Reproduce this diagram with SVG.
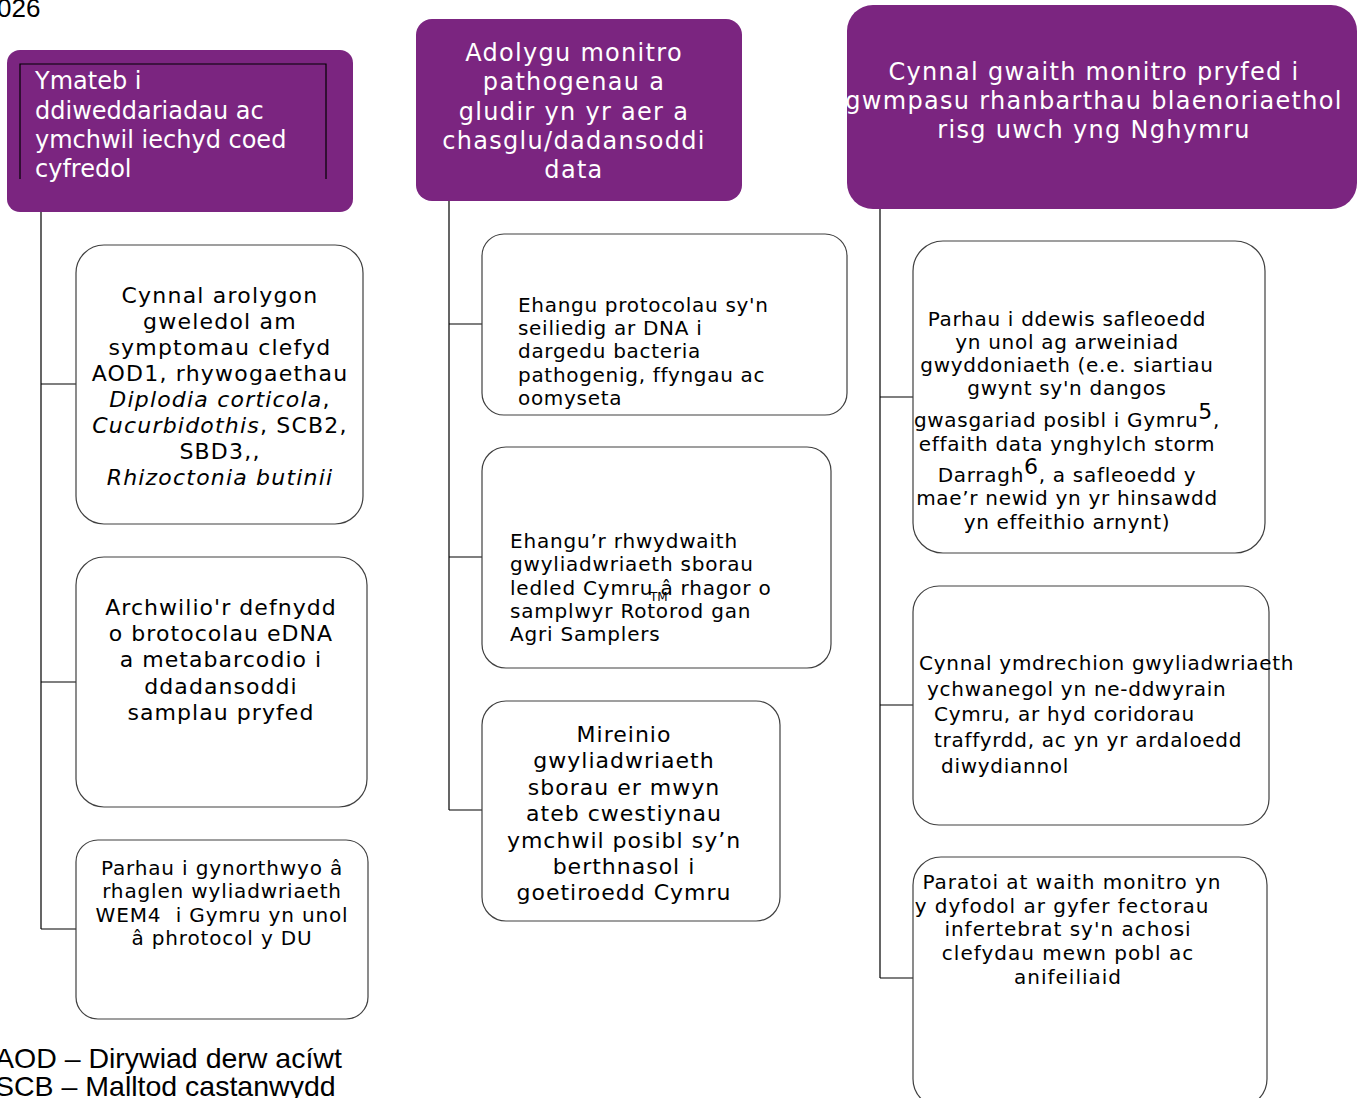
<svg xmlns="http://www.w3.org/2000/svg" width="1363" height="1098" viewBox="0 0 1363 1098">
<style>
.hdr{fill:#7B2580;}
.ht{fill:#ffffff;font-family:"DejaVu Sans",Verdana,sans-serif;font-size:24px;}
.ls{letter-spacing:1.3px;}
.box{fill:#ffffff;stroke:#404040;stroke-width:1.2;}
.bt{fill:#000000;font-family:"DejaVu Sans",Verdana,sans-serif;}
.c{text-anchor:middle;}
.conn{stroke:#000000;stroke-width:1.2;fill:none;}
.leg{font-family:"Liberation Sans",Arial,sans-serif;font-size:28.5px;fill:#000;}
</style>
<defs>
<clipPath id="clipL1"><rect x="76" y="245" width="287" height="242"/></clipPath>
</defs>
<text class="leg" x="-3" y="17" style="font-size:26px">026</text>

<g id="connectors">
<path class="conn" d="M41 212 V929 M41 384 H76 M41 682 H76 M41 929 H76"/>
<path class="conn" d="M449 201 V810 M449 324 H482 M449 557 H482 M449 810 H482"/>
<path class="conn" d="M880 209 V978 M880 397 H913 M880 705 H913 M880 978 H913"/>
</g>

<g id="header1">
<rect class="hdr" x="7" y="50" width="346" height="162" rx="13"/>
<path d="M20 179 V64 H326 V179" fill="none" stroke="#000" stroke-width="1.2"/>
<text class="ht" x="35" y="89">Ymateb i</text>
<text class="ht" x="35" y="119">ddiweddariadau ac</text>
<text class="ht" x="35" y="148">ymchwil iechyd coed</text>
<text class="ht" x="35" y="177">cyfredol</text>
</g>

<g id="header2">
<rect class="hdr" x="416" y="19" width="326" height="182" rx="16"/>
<text class="ht c ls" x="574" y="61">Adolygu monitro</text>
<text class="ht c ls" x="574" y="90">pathogenau a</text>
<text class="ht c ls" x="574" y="120">gludir yn yr aer a</text>
<text class="ht c ls" x="574" y="149">chasglu/dadansoddi</text>
<text class="ht c ls" x="574" y="178">data</text>
</g>

<g id="header3">
<rect class="hdr" x="847" y="5" width="510" height="204" rx="26"/>
<text class="ht c ls" x="1094" y="80">Cynnal gwaith monitro pryfed i</text>
<text class="ht c ls" x="1094" y="109">gwmpasu rhanbarthau blaenoriaethol</text>
<text class="ht c ls" x="1094" y="138">risg uwch yng Nghymru</text>
</g>

<g id="L1" style="letter-spacing:1.2px">
<rect class="box" x="76" y="245" width="287" height="279" rx="28"/>
<g clip-path="url(#clipL1)">
<text class="bt c" x="220" y="303" style="font-size:22px">Cynnal arolygon</text>
<text class="bt c" x="220" y="329" style="font-size:22px">gweledol am</text>
<text class="bt c" x="220" y="355" style="font-size:22px">symptomau clefyd</text>
<text class="bt c" x="220" y="381" style="font-size:22px">AOD1, rhywogaethau</text>
<text class="bt c" x="220" y="407" style="font-size:22px"><tspan font-style="italic">Diplodia corticola</tspan>,</text>
<text class="bt c" x="220" y="433" style="font-size:22px"><tspan font-style="italic">Cucurbidothis</tspan>, SCB2,</text>
<text class="bt c" x="220" y="459" style="font-size:22px">SBD3,,</text>
<text class="bt c" x="220" y="485" style="font-size:22px" font-style="italic">Rhizoctonia butinii</text>
</g>
</g>

<g id="L2" style="letter-spacing:1.05px">
<rect class="box" x="76" y="557" width="291" height="250" rx="28"/>
<text class="bt c" x="221" y="615" style="font-size:22px">Archwilio'r defnydd</text>
<text class="bt c" x="221" y="641" style="font-size:22px">o brotocolau eDNA</text>
<text class="bt c" x="221" y="667" style="font-size:22px">a metabarcodio i</text>
<text class="bt c" x="221" y="694" style="font-size:22px">ddadansoddi</text>
<text class="bt c" x="221" y="720" style="font-size:22px">samplau pryfed</text>
</g>

<g id="L3" style="letter-spacing:0.85px">
<rect class="box" x="76" y="840" width="292" height="179" rx="22"/>
<text class="bt c" x="222" y="875" style="font-size:20px">Parhau i gynorthwyo â</text>
<text class="bt c" x="222" y="898" style="font-size:20px">rhaglen wyliadwriaeth</text>
<text class="bt c" x="222" y="922" style="font-size:20px" xml:space="preserve">WEM4  i Gymru yn unol</text>
<text class="bt c" x="222" y="945" style="font-size:20px">â phrotocol y DU</text>
</g>

<g id="M1" style="letter-spacing:0.7px">
<rect class="box" x="482" y="234" width="365" height="181" rx="22"/>
<text class="bt" x="518" y="312" style="font-size:20px">Ehangu protocolau sy'n</text>
<text class="bt" x="518" y="335" style="font-size:20px">seiliedig ar DNA i</text>
<text class="bt" x="518" y="358" style="font-size:20px">dargedu bacteria</text>
<text class="bt" x="518" y="382" style="font-size:20px">pathogenig, ffyngau ac</text>
<text class="bt" x="518" y="405" style="font-size:20px">oomyseta</text>
</g>

<g id="M2" style="letter-spacing:0.8px">
<rect class="box" x="482" y="447" width="349" height="221" rx="24"/>
<text class="bt" x="510" y="548" style="font-size:20px">Ehangu’r rhwydwaith</text>
<text class="bt" x="510" y="571" style="font-size:20px">gwyliadwriaeth sborau</text>
<text class="bt" x="510" y="595" style="font-size:20px">ledled Cymru â rhagor o</text>
<text class="bt" x="650" y="601" style="font-size:12px;letter-spacing:0">TM</text>
<text class="bt" x="510" y="618" style="font-size:20px">samplwyr Rotorod gan</text>
<text class="bt" x="510" y="641" style="font-size:20px">Agri Samplers</text>
</g>

<g id="M3" style="letter-spacing:1px">
<rect class="box" x="482" y="701" width="298" height="220" rx="24"/>
<text class="bt c" x="624" y="742" style="font-size:22px">Mireinio</text>
<text class="bt c" x="624" y="768" style="font-size:22px">gwyliadwriaeth</text>
<text class="bt c" x="624" y="795" style="font-size:22px">sborau er mwyn</text>
<text class="bt c" x="624" y="821" style="font-size:22px">ateb cwestiynau</text>
<text class="bt c" x="624" y="848" style="font-size:22px">ymchwil posibl sy’n</text>
<text class="bt c" x="624" y="874" style="font-size:22px">berthnasol i</text>
<text class="bt c" x="624" y="900" style="font-size:22px">goetiroedd Cymru</text>
</g>

<g id="R1" style="letter-spacing:0.7px">
<rect class="box" x="913" y="241" width="352" height="312" rx="30"/>
<text class="bt c" x="1067" y="326" style="font-size:20px">Parhau i ddewis safleoedd</text>
<text class="bt c" x="1067" y="349" style="font-size:20px">yn unol ag arweiniad</text>
<text class="bt c" x="1067" y="372" style="font-size:20px">gwyddoniaeth (e.e. siartiau</text>
<text class="bt c" x="1067" y="395" style="font-size:20px">gwynt sy'n dangos</text>
<text class="bt c" x="1067" y="427" style="font-size:20px">gwasgariad posibl i Gymru<tspan dy="-8" style="font-size:22px">5</tspan><tspan dy="8">,</tspan></text>
<text class="bt c" x="1067" y="451" style="font-size:20px">effaith data ynghylch storm</text>
<text class="bt c" x="1067" y="482" style="font-size:20px">Darragh<tspan dy="-8" style="font-size:22px">6</tspan><tspan dy="8">, a safleoedd y</tspan></text>
<text class="bt c" x="1067" y="505" style="font-size:20px">mae’r newid yn yr hinsawdd</text>
<text class="bt c" x="1067" y="529" style="font-size:20px">yn effeithio arnynt)</text>
</g>

<g id="R2" style="letter-spacing:0.72px">
<rect class="box" x="913" y="586" width="356" height="239" rx="26"/>
<text class="bt" x="919" y="670" style="font-size:20px">Cynnal ymdrechion gwyliadwriaeth</text>
<text class="bt" x="927" y="696" style="font-size:20px">ychwanegol yn ne-ddwyrain</text>
<text class="bt" x="934" y="721" style="font-size:20px">Cymru, ar hyd coridorau</text>
<text class="bt" x="934" y="747" style="font-size:20px">traffyrdd, ac yn yr ardaloedd</text>
<text class="bt" x="941" y="773" style="font-size:20px">diwydiannol</text>
</g>

<g id="R3" style="letter-spacing:1px">
<rect class="box" x="913" y="857" width="354" height="250" rx="28"/>
<text class="bt c" x="1072" y="889" style="font-size:20px">Paratoi at waith monitro yn</text>
<text class="bt c" x="1062" y="913" style="font-size:20px">y dyfodol ar gyfer fectorau</text>
<text class="bt c" x="1068" y="936" style="font-size:20px">infertebrat sy'n achosi</text>
<text class="bt c" x="1068" y="960" style="font-size:20px">clefydau mewn pobl ac</text>
<text class="bt c" x="1068" y="984" style="font-size:20px">anifeiliaid</text>
</g>

<g id="legend">
<text class="leg" x="-5" y="1068">AOD – Dirywiad derw acíwt</text>
<text class="leg" x="-5" y="1096">SCB – Malltod castanwydd</text>
</g>
</svg>
